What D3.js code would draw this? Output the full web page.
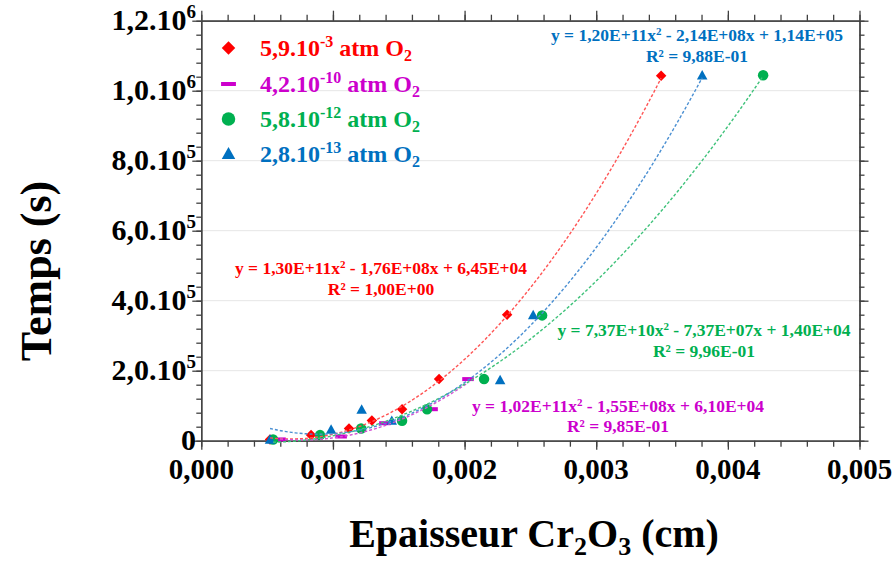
<!DOCTYPE html>
<html><head><meta charset="utf-8">
<script src="https://cdn.jsdelivr.net/npm/d3@7"></script>
<style>body{margin:0;background:#fff}svg{display:block}text{font-family:"Liberation Serif","Times New Roman",serif;font-weight:bold}</style>
</head><body><svg id="c" width="894" height="561"></svg>
<script>
// ---- data ----
const seriesNames = ["5,9.10", "4,2.10", "5,8.10", "2,8.10"];
const seriesExps = ["-3", "-10", "-12", "-13"];
const seriesColors = ["#ff0000", "#cc00cc", "#00b050", "#0070c0"];
const trendColors = ["#ff5555", "#d452d4", "#3fc27a", "#4a8fd2"];
const seriesShapes = ["diamond", "dash", "circle", "triangle"];

const redX = [0.000522, 0.000834, 0.001122, 0.001296, 0.001525, 0.001806, 0.002323, 0.003493];
const redT = [3600, 16000, 35000, 57500, 90000, 176000, 360000, 1043000];
const magX = [0.000598, 0.001062, 0.001395, 0.001753, 0.002026];
const magT = [3600, 12000, 50000, 90000, 176000];
const greenX = [0.000545, 0.000902, 0.001214, 0.001525, 0.001715, 0.002148, 0.002589, 0.004268];
const greenT = [3600, 16000, 35000, 57000, 90000, 176000, 358000, 1044000];
const blueX = [0.000522, 0.000986, 0.001218, 0.001447, 0.002270, 0.002521, 0.003805];
const blueT = [1800, 30600, 88000, 56000, 172000, 358000, 1043000];

// trendline coefficients [a, b, c] for y = a x^2 + b x + c
const redFit = [1.30e11, -1.76e8, 6.45e4];
const magFit = [1.02e11, -1.55e8, 6.10e4];
const greenFit = [7.37e10, -7.37e7, 1.40e4];
const blueFit = [1.20e11, -2.14e8, 1.14e5];

const eqTexts = [
  ["y = 1,30E+11x", " - 1,76E+08x + 6,45E+04", "R² = 1,00E+00"],
  ["y = 1,02E+11x", " - 1,55E+08x + 6,10E+04", "R² = 9,85E-01"],
  ["y = 7,37E+10x", " - 7,37E+07x + 1,40E+04", "R² = 9,96E-01"],
  ["y = 1,20E+11x", " - 2,14E+08x + 1,14E+05", "R² = 9,88E-01"]
];

const xTickVals = [0, 0.001, 0.002, 0.003, 0.004, 0.005];
const xTickLabels = ["0,000", "0,001", "0,002", "0,003", "0,004", "0,005"];
const yTickVals = [0, 2e5, 4e5, 6e5, 8e5, 1e6, 1.2e6];
const yTickMant = ["0", "2,0.10", "4,0.10", "6,0.10", "8,0.10", "1,0.10", "1,2.10"];
const yTickExp = ["", "5", "5", "5", "5", "6", "6"];

// ---- layout ----
const svg = d3.select("#c");
const L = 201.3, R = 859.5, T = 20.7, B = 440.7;
const x = d3.scaleLinear().domain([0, 0.005]).range([L, R]);
const y = d3.scaleLinear().domain([0, 1.2e6]).range([B, T]);
const axisColor = "#404040";

// gridlines
svg.append("g").selectAll("line").data(yTickVals.slice(1)).join("line")
  .attr("x1", L).attr("x2", R).attr("y1", d => y(d)).attr("y2", d => y(d))
  .attr("stroke", "#e6e6e6").attr("stroke-width", 1);

function styleAxis(g) {
  g.select(".domain").attr("stroke", axisColor).attr("stroke-width", 1.3);
  g.selectAll(".tick line").attr("stroke", axisColor).attr("stroke-width", 1.3);
  g.selectAll(".tick text").remove();
}
const minorX = d3.range(0, 0.00501, 0.0002);
const minorY = d3.range(0, 1.2e6 + 1, 4e4);
// bottom
svg.append("g").attr("transform", `translate(0,${B})`).call(d3.axisBottom(x).tickValues(minorX).tickSize(6).tickSizeOuter(0)).call(styleAxis);
svg.append("g").attr("transform", `translate(0,${B})`).call(d3.axisBottom(x).tickValues(xTickVals).tickSize(9).tickSizeOuter(0)).call(styleAxis);
// top
svg.append("g").attr("transform", `translate(0,${T})`).call(d3.axisTop(x).tickValues(minorX).tickSize(6).tickSizeOuter(0)).call(styleAxis);
svg.append("g").attr("transform", `translate(0,${T})`).call(d3.axisTop(x).tickValues(xTickVals).tickSize(10).tickSizeOuter(0)).call(styleAxis);
// left
svg.append("g").attr("transform", `translate(${L},0)`).call(d3.axisLeft(y).tickValues(minorY).tickSize(5).tickSizeOuter(0)).call(styleAxis);
svg.append("g").attr("transform", `translate(${L},0)`).call(d3.axisLeft(y).tickValues(yTickVals).tickSize(9).tickSizeOuter(0)).call(styleAxis);
// right
svg.append("g").attr("transform", `translate(${R},0)`).call(d3.axisRight(y).tickValues(minorY).tickSize(5).tickSizeOuter(0)).call(styleAxis);
svg.append("g").attr("transform", `translate(${R},0)`).call(d3.axisRight(y).tickValues(yTickVals).tickSize(9).tickSizeOuter(0)).call(styleAxis);

// tick labels
svg.append("g").selectAll("text").data(xTickVals).join("text")
  .attr("x", d => x(d)).attr("y", 479).attr("text-anchor", "middle")
  .attr("font-size", 29).attr("fill", "#000").text((d, i) => xTickLabels[i]);

const yl = svg.append("g").selectAll("text").data(yTickVals).join("text")
  .attr("x", 196).attr("y", d => y(d) + 9).attr("text-anchor", "end")
  .attr("font-size", 30).attr("fill", "#000");
yl.append("tspan").text((d, i) => yTickMant[i]);
yl.append("tspan").attr("font-size", 19).attr("dy", -12).text((d, i) => yTickExp[i]);

// axis titles
const xt = svg.append("text").attr("x", 534).attr("y", 547).attr("text-anchor", "middle").attr("font-size", 40).attr("fill", "#000");
xt.append("tspan").text("Epaisseur Cr");
xt.append("tspan").attr("font-size", 26).attr("dy", 8).text("2");
xt.append("tspan").attr("dy", -8).text("O");
xt.append("tspan").attr("font-size", 26).attr("dy", 8).text("3");
xt.append("tspan").attr("dy", -8).text(" (cm)");

svg.append("text").attr("transform", "translate(51,271) rotate(-90)").attr("text-anchor", "middle")
  .attr("font-size", 44).attr("fill", "#000").text("Temps (s)");

// ---- series ----
const allX = [redX, magX, greenX, blueX];
const allT = [redT, magT, greenT, blueT];
const fits = [redFit, magFit, greenFit, blueFit];

function marker(g, shape, cx, cy, s, color) {
  if (shape === "diamond") {
    g.append("path").attr("d", `M${cx},${cy - s / 2}L${cx + s / 2},${cy}L${cx},${cy + s / 2}L${cx - s / 2},${cy}Z`).attr("fill", color);
  } else if (shape === "circle") {
    g.append("circle").attr("cx", cx).attr("cy", cy).attr("r", s / 2).attr("fill", color);
  } else if (shape === "triangle") {
    const h = s * 0.9;
    g.append("path").attr("d", `M${cx},${cy - h / 2 - 1}L${cx + s / 2},${cy + h / 2 - 1}L${cx - s / 2},${cy + h / 2 - 1}Z`).attr("fill", color);
  } else {
    g.append("rect").attr("x", cx - s * 0.55).attr("y", cy - 2).attr("width", s * 1.1).attr("height", 4).attr("fill", color);
  }
}

const pts = svg.append("g");
[0, 1, 2, 3].forEach(i => {
  allX[i].forEach((xv, j) => marker(pts, seriesShapes[i], x(xv), y(allT[i][j]), 10.5, seriesColors[i]));
});

// trendlines
const lines = svg.append("g");
[0, 1, 2, 3].forEach(i => {
  const [a, b, c] = fits[i];
  const x0 = d3.min(allX[i]), x1 = d3.max(allX[i]);
  const xs = d3.range(x0, x1, (x1 - x0) / 120).concat([x1]);
  lines.append("path").datum(xs)
    .attr("d", d3.line().x(d => x(d)).y(d => y(a * d * d + b * d + c)))
    .attr("fill", "none").attr("stroke", trendColors[i]).attr("stroke-width", 1.4)
    .attr("stroke-dasharray", "3,2");
});

// equations
const eqPos = [[381, 274, 295], [618, 412, 432], [704, 336, 357], [697, 41, 62]];
[0, 1, 2, 3].forEach(i => {
  const [cx, y1, y2] = eqPos[i];
  const t1 = svg.append("text").attr("x", cx).attr("y", y1).attr("text-anchor", "middle").attr("font-size", 17.5).attr("fill", seriesColors[i]);
  t1.append("tspan").text(eqTexts[i][0]);
  t1.append("tspan").attr("font-size", 11).attr("dy", -6).text("2");
  t1.append("tspan").attr("dy", 6).text(eqTexts[i][1]);
  svg.append("text").attr("x", cx).attr("y", y2).attr("text-anchor", "middle").attr("font-size", 17.5).attr("fill", seriesColors[i]).text(eqTexts[i][2]);
});

// legend
const legY = [48, 84, 119, 154];
const leg = svg.append("g");
[0, 1, 2, 3].forEach(i => {
  marker(leg, seriesShapes[i], 228.5, legY[i], 13.5, seriesColors[i]);
  const t = leg.append("text").attr("x", 260).attr("y", legY[i] + 8).attr("font-size", 24).attr("fill", seriesColors[i]);
  t.append("tspan").text(seriesNames[i]);
  t.append("tspan").attr("font-size", 16).attr("dy", -9).text(seriesExps[i]);
  t.append("tspan").attr("dy", 9).text(" atm O");
  t.append("tspan").attr("font-size", 16).attr("dy", 5).text("2");
});
</script></body></html>
